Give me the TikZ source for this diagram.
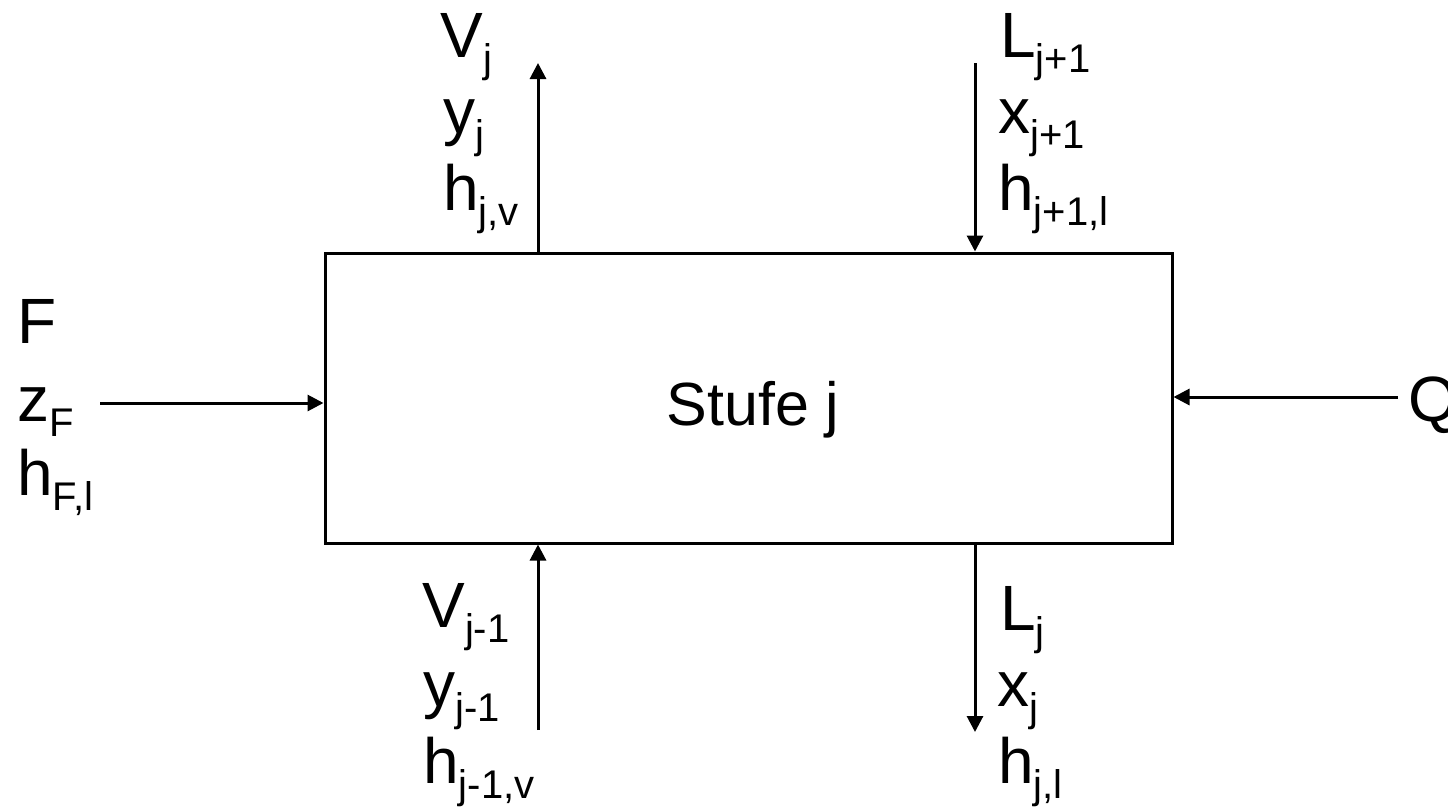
\documentclass[tikz,border=0pt]{standalone}
\usepackage{fontspec}
\setmainfont{Liberation Sans}
\usetikzlibrary{arrows.meta}
% lowered, smaller index text
\newcommand\lowsub[1]{\raisebox{-7.5pt}{\fontsize{20}{20}\selectfont #1}}
\tikzset{
  lbl/.style={anchor=base west, inner sep=0pt, font=\fontsize{32}{38}\selectfont},
  flow/.style={line width=1.5pt, -{Triangle[length=8pt,width=8pt]}},
  stage/.style={draw, line width=1.5pt, minimum width=423.5pt, minimum height=145pt, inner sep=0pt}
}
\begin{document}
\begin{tikzpicture}[x=0.5pt,y=-0.5pt]
\useasboundingbox (0,0) rectangle (1448,809);

% the stage
\node[stage] (box) at (748.5,398) {};
\node[anchor=base, inner sep=0pt, font=\fontsize{30.5}{36}\selectfont] (stufe) at (753,425) {Stufe j};

% vapour leaving upwards
\node[lbl] (vj)  at (440,57)  {V\lowsub{j}};
\node[lbl] (yj)  at (443,133) {y\lowsub{j}};
\node[lbl] (hjv) at (443,210) {h\lowsub{j,v}};

% liquid from the stage above
\node[lbl] (lj1) at (1000,57)  {L\lowsub{j+1}};
\node[lbl] (xj1) at (998,133)  {x\lowsub{j+1}};
\node[lbl] (hj1) at (998,210)  {h\lowsub{j+1,l}};

% feed
\node[lbl] (F)  at (17,343) {F};
\node[lbl] (zF) at (17,421) {z\lowsub{F}};
\node[lbl] (hF) at (17,495) {h\lowsub{F,l}};

% heat
\node[lbl] (Q) at (1408,421) {Q};

% vapour from the stage below
\node[lbl] (vjm) at (422,627) {V\lowsub{j-1}};
\node[lbl] (yjm) at (423,706) {y\lowsub{j-1}};
\node[lbl] (hjm) at (423,783) {h\lowsub{j-1,v}};

% liquid leaving downwards
\node[lbl] (lj)  at (1000,630) {L\lowsub{j}};
\node[lbl] (xj)  at (997,706)  {x\lowsub{j}};
\node[lbl] (hjl) at (998,783)  {h\lowsub{j,l}};

% stream connectors
\coordinate (vout) at (538,63);
\coordinate (lin)  at (975,63);
\coordinate (fin)  at (100,403);
\coordinate (qin)  at (1398,397);
\coordinate (vin)  at (538,730);
\coordinate (lout) at (975,732);

\draw[flow] (vout |- box.north) -- (vout);
\draw[flow] (lin) -- (lin |- box.north);
\draw[flow] (fin) -- (fin -| box.west);
\draw[flow] (qin) -- (qin -| box.east);
\draw[flow] (vin) -- (vin |- box.south);
\draw[flow] (lout |- box.south) -- (lout);
\end{tikzpicture}
\end{document}
